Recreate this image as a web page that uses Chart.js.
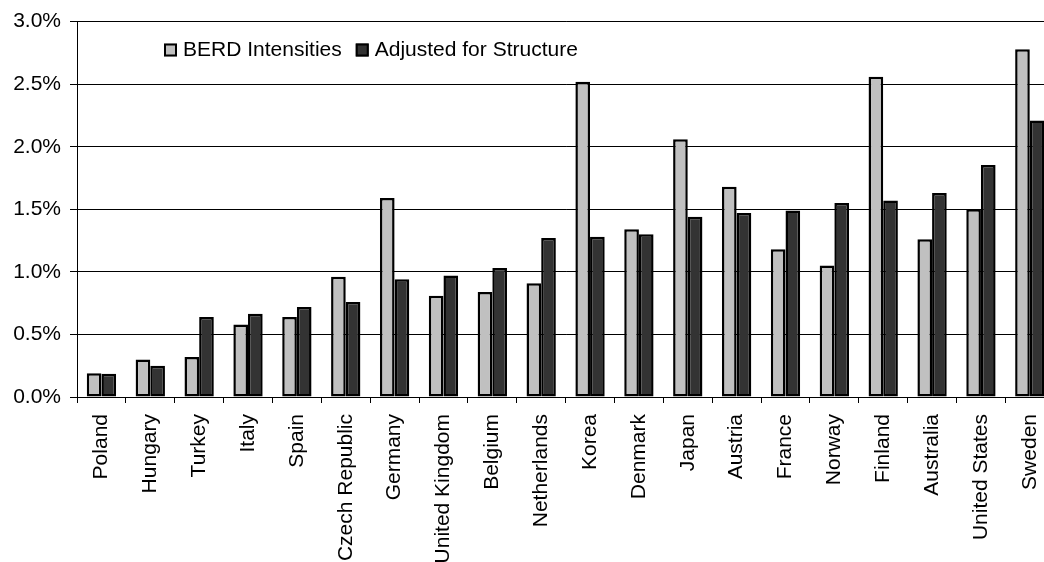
<!DOCTYPE html>
<html>
<head>
<meta charset="utf-8">
<script src="https://cdn.jsdelivr.net/npm/chart.js@4/dist/chart.umd.min.js"></script>
<style>
  html, body { margin: 0; padding: 0; background: #fff; overflow: hidden; }
  #wrap { width: 1066px; height: 562px; }
</style>
</head>
<body>
<div id="wrap"><canvas id="c" width="1066" height="562"></canvas></div>
<script>
// Business R&D intensity by country, raw and adjusted for industry structure (% of value added)
const countries = ["Poland", "Hungary", "Turkey", "Italy", "Spain", "Czech Republic", "Germany",
  "United Kingdom", "Belgium", "Netherlands", "Korea", "Denmark", "Japan", "Austria", "France",
  "Norway", "Finland", "Australia", "United States", "Sweden"];
const berdIntensities = [0.19, 0.30, 0.32, 0.58, 0.64, 0.96, 1.59, 0.81, 0.84, 0.91, 2.52, 1.34,
  2.06, 1.68, 1.18, 1.05, 2.56, 1.26, 1.50, 2.78];
const adjustedForStructure = [0.185, 0.25, 0.64, 0.665, 0.72, 0.76, 0.94, 0.97, 1.03, 1.27, 1.28,
  1.30, 1.44, 1.47, 1.49, 1.55, 1.57, 1.63, 1.855, 2.21];
const yTicks = [0, 0.5, 1.0, 1.5, 2.0, 2.5, 3.0];

const FONT = "'Liberation Sans', Arial, sans-serif";

// Legend drawn inside the plot area, near its top-left corner
const innerLegend = {
  id: 'innerLegend',
  afterDraw(chart) {
    const ctx = chart.ctx;
    ctx.save();
    ctx.font = '21px ' + FONT;
    ctx.textBaseline = 'middle';
    let x = 164;
    const y = 50;
    chart.data.datasets.forEach((ds) => {
      ctx.fillStyle = ds.backgroundColor;
      ctx.fillRect(x, y - 6.5, 13, 13);
      ctx.lineWidth = 2;
      ctx.strokeStyle = '#000';
      ctx.strokeRect(x + 1, y - 5.5, 11, 11);
      ctx.fillStyle = '#000';
      ctx.fillText(ds.label, x + 19, y + 0.5);
      x += 19 + ctx.measureText(ds.label).width + 14;
    });
    ctx.restore();
  }
};

new Chart(document.getElementById('c'), {
  type: 'bar',
  data: {
    labels: countries,
    datasets: [
      { label: 'BERD Intensities', data: berdIntensities, backgroundColor: '#c0c0c0',
        borderColor: '#000', borderWidth: 2.5, borderSkipped: false },
      { label: 'Adjusted for Structure', data: adjustedForStructure, backgroundColor: '#333333',
        borderColor: '#000', borderWidth: 2.5, borderSkipped: false }
    ]
  },
  options: {
    responsive: false,
    animation: false,
    layout: { padding: { top: 21, right: 0, left: 0, bottom: 0 } },
    datasets: { bar: { categoryPercentage: 0.6, barPercentage: 1.0 } },
    plugins: { legend: { display: false }, tooltip: { enabled: false } },
    scales: {
      x: {
        grid: { display: true, offset: true, drawOnChartArea: false, drawTicks: true,
                tickLength: 6, color: '#000', lineWidth: 1 },
        border: { display: true, color: '#000', width: 1 },
        ticks: { maxRotation: 90, minRotation: 90, autoSkip: false, padding: 11,
                 color: '#000', font: { family: FONT, size: 21 } },
        afterFit(scale) { scale.height = 165; }
      },
      y: {
        min: 0, max: 3,
        afterBuildTicks(scale) { scale.ticks = yTicks.map(v => ({ value: v })); },
        grid: { color: '#000', lineWidth: 1, drawTicks: true, tickLength: 7 },
        border: { display: true, color: '#000', width: 1 },
        ticks: { padding: 9, color: '#000', font: { family: FONT, size: 21 },
                 callback: (v) => Number(v).toFixed(1) + '%' },
        afterFit(scale) { scale.width = 77; }
      }
    }
  },
  plugins: [innerLegend]
});
</script>
</body>
</html>
